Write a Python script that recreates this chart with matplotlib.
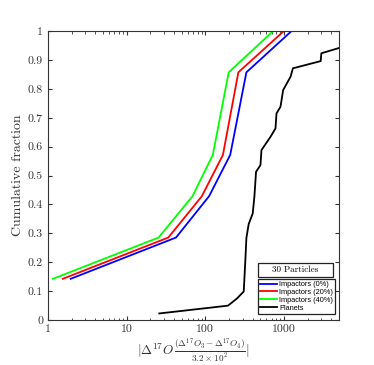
import matplotlib
matplotlib.use("Agg")
import matplotlib.pyplot as plt
from matplotlib.patches import Rectangle

plt.rcParams['font.family'] = 'serif'
plt.rcParams['font.serif'] = ['cmr10']
plt.rcParams['mathtext.fontset'] = 'cm'
plt.rcParams['axes.formatter.use_mathtext'] = True

# impactor curves (same cumulative fractions, shifted x)
frac_imp = [1/7, 2/7, 3/7, 4/7, 6/7, 1.0]
imp_0 = [1.95, 42.6, 112, 208, 334, 1254]
imp_20 = [1.55, 34, 90.6, 168, 264, 1000]
imp_40 = [1.16, 25.6, 68.9, 125, 199, 731]

# planets
planets_x = [26.1, 195, 254, 309, 324, 334, 357, 402, 422, 443, 504, 519,
             676, 783, 806, 906, 980, 1217, 1303, 2937, 2998, 5130]
planets_y = [0.023, 0.050, 0.075, 0.099, 0.208, 0.284, 0.332, 0.369, 0.427,
             0.513, 0.536, 0.588, 0.634, 0.663, 0.715, 0.738, 0.796, 0.842,
             0.871, 0.896, 0.923, 0.942]

xticks = [1, 10, 100, 1000]
xticklabels = ['1', '10', '100', '1000']
yticks = [i / 10 for i in range(11)]
yticklabels = ['0'] + ['0.%d' % i for i in range(1, 10)] + ['1']

fig = plt.figure(figsize=(3.74, 3.65), dpi=100)
ax = fig.add_axes([0.128, 0.123, 0.778, 0.792])

ax.plot(imp_0, frac_imp, color='#0000ff', lw=1.3, label='Impactors (0%)')
ax.plot(imp_20, frac_imp, color='#ff0000', lw=1.3, label='Impactors (20%)')
ax.plot(imp_40, frac_imp, color='#00ff00', lw=1.3, label='Impactors (40%)')
ax.plot(planets_x, planets_y, color='black', lw=1.3, label='Planets')

ax.set_xscale('log')
ax.set_xlim(1, 5000)
ax.set_ylim(0, 1)
ax.set_xticks(xticks)
ax.set_xticklabels(xticklabels)
ax.set_yticks(yticks)
ax.set_yticklabels(yticklabels)
ax.tick_params(which='both', direction='in', top=True, right=True,
               labelsize=8.5, color='#333333', labelcolor='#333333')
ax.tick_params(which='major', length=3)
ax.tick_params(which='minor', length=1.8)
for s in ax.spines.values():
    s.set_color('#333333')
    s.set_linewidth(0.8)

ax.set_ylabel('Cumulative fraction', fontsize=10, color='#333333', labelpad=3)
ax.set_xlabel(r'$|\Delta^{17}O\,\frac{(\Delta^{17}O_3-\Delta^{17}O_4)}{3.2\times10^2}|$',
              fontsize=9.5, color='#333333', labelpad=1)

leg = ax.legend(loc='lower left', bbox_to_anchor=(0.722, 0.021),
                prop={'family': 'Liberation Sans', 'size': 5.3},
                frameon=True, fancybox=False, framealpha=1,
                handlelength=2.3, handletextpad=0.3, borderpad=0.3,
                labelspacing=0.1, borderaxespad=0.0)
frame = leg.get_frame()
frame.set_edgecolor('#222222')
frame.set_linewidth(0.9)
frame.set_facecolor('white')

box = Rectangle((0.722, 0.149), 0.257, 0.048, transform=ax.transAxes,
                fc='white', ec='#222222', lw=0.9, zorder=5)
ax.add_patch(box)
ax.text(0.8505, 0.173, '30 Particles', transform=ax.transAxes, fontsize=6.5,
        ha='center', va='center', zorder=6)

fig.savefig('out.png', dpi=100)
